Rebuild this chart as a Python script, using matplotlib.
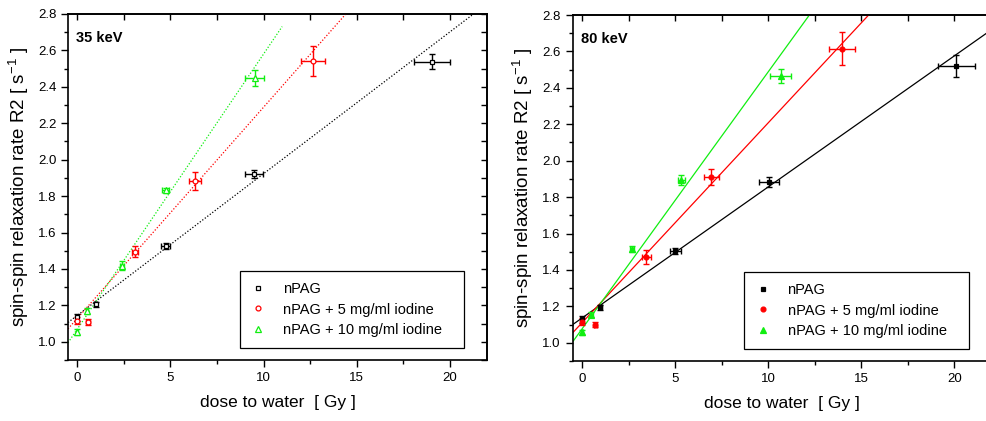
import matplotlib
matplotlib.use("Agg")
import matplotlib.pyplot as plt
import numpy as np
from matplotlib.ticker import MultipleLocator

plt.rcParams['font.family'] = ['Liberation Sans', 'DejaVu Sans']

# ---- data: 35 keV ----
d35_npag = [0.0, 0.99, 4.75, 9.5, 19.03]
r35_npag = [1.135, 1.205, 1.525, 1.922, 2.538]
dx35_npag = [0.05, 0.08, 0.25, 0.47, 0.97]
dy35_npag = [0.02, 0.015, 0.015, 0.02, 0.04]

d35_i5 = [0.0, 0.56, 3.1, 6.3, 12.66]
r35_i5 = [1.115, 1.108, 1.494, 1.883, 2.542]
dx35_i5 = [0.05, 0.1, 0.15, 0.32, 0.65]
dy35_i5 = [0.02, 0.015, 0.03, 0.05, 0.08]

d35_i10 = [0.0, 0.52, 2.39, 4.75, 9.52]
r35_i10 = [1.055, 1.168, 1.418, 1.831, 2.45]
dx35_i10 = [0.05, 0.08, 0.12, 0.2, 0.5]
dy35_i10 = [0.015, 0.015, 0.025, 0.015, 0.045]

# fit lines (slope, intercept, x-range)
fit35_npag = [0.0778, 1.145, -0.5, 22.0]
fit35_i5 = [0.1159, 1.129, -0.5, 22.0]
fit35_i10 = [0.151, 1.07, -0.5, 11.0]

# ---- data: 80 keV ----
d80_npag = [0.0, 0.99, 5.01, 10.05, 20.1]
r80_npag = [1.128, 1.195, 1.505, 1.884, 2.522]
dx80_npag = [0.05, 0.08, 0.28, 0.52, 1.0]
dy80_npag = [0.02, 0.015, 0.015, 0.027, 0.06]

d80_i5 = [0.0, 0.72, 3.45, 6.95, 13.95]
r80_i5 = [1.115, 1.1, 1.47, 1.91, 2.615]
dx80_i5 = [0.05, 0.1, 0.25, 0.4, 0.71]
dy80_i5 = [0.02, 0.015, 0.037, 0.046, 0.09]

d80_i10 = [0.0, 0.5, 2.67, 5.33, 10.66]
r80_i10 = [1.057, 1.154, 1.515, 1.894, 2.465]
dx80_i10 = [0.05, 0.08, 0.1, 0.2, 0.54]
dy80_i10 = [0.015, 0.015, 0.015, 0.03, 0.04]

fit80_npag = [0.072, 1.136, -0.5, 22.0]
fit80_i5 = [0.1098, 1.11, -0.5, 22.0]
fit80_i10 = [0.1412, 1.076, -0.5, 22.0]

labels = ['nPAG', 'nPAG + 5 mg/ml iodine', 'nPAG + 10 mg/ml iodine']
colors = ['black', '#ff0000', '#11ee11']
markers = ['s', 'o', '^']

fig = plt.figure(figsize=(9.86, 4.21), dpi=100)
W, H = 986, 421
ax1 = fig.add_axes([68 / W, 1 - 360 / H, 419 / W, 346 / H])
ax2 = fig.add_axes([572.7 / W, 1 - 361 / H, 419 / W, 346 / H])


def style(ax, title, filled, lstyle, series, fits):
    for (x, y, dx, dy), fit, c, m, lab in zip(series, fits, colors, markers, labels):
        xs = np.array([fit[2], fit[3]])
        ax.plot(xs, fit[0] * xs + fit[1], color=c, lw=0.9, ls=lstyle, zorder=2)
        ax.errorbar(x, y, xerr=dx, yerr=dy, fmt='none', ecolor=c, elinewidth=1.0,
                    capsize=2.5, capthick=1.0, zorder=3)
        ax.plot(x, y, ls='none', marker=m, ms=3.5 if m != '^' else 4.5,
                mfc=c if filled else 'white', mec=c, mew=0.9, label=lab, zorder=4)
    ax.set_xlim(-0.5, 22)
    ax.set_ylim(0.9, 2.8)
    ax.xaxis.set_major_locator(MultipleLocator(5))
    ax.xaxis.set_minor_locator(MultipleLocator(2.5))
    ax.yaxis.set_major_locator(MultipleLocator(0.2))
    ax.yaxis.set_minor_locator(MultipleLocator(0.1))
    ax.yaxis.set_major_formatter(matplotlib.ticker.FormatStrFormatter('%.1f'))
    ax.tick_params(which='major', direction='out', length=5, width=1, labelsize=9.5,
                   top=False, right=False)
    ax.tick_params(which='minor', direction='out', length=3, width=1, top=False, right=False)
    for s in ax.spines.values():
        s.set_linewidth(1.2)
    sx = ax.secondary_xaxis('top')
    sx.xaxis.set_major_locator(MultipleLocator(2.5))
    sx.tick_params(direction='in', length=4, width=1, labeltop=False)
    sx.spines['top'].set_linewidth(1.2)
    sy = ax.secondary_yaxis('right')
    sy.yaxis.set_major_locator(MultipleLocator(0.1))
    sy.tick_params(direction='in', length=4, width=1, labelright=False)
    sy.spines['right'].set_linewidth(1.2)
    ax.set_xlabel('dose to water  [ Gy ]', fontsize=12.5, labelpad=8)
    ax.set_ylabel('spin-spin relaxation rate R2 [ s$^{\\mathregular{-1}}$ ]', fontsize=13.5, labelpad=5)
    ax.text(0.02, 0.93, title, transform=ax.transAxes, fontsize=10.5, fontweight='bold',
            ha='left', va='center')
    leg = ax.legend(loc='upper left', bbox_to_anchor=(0.41, 0.257, 0.535, 0.0), mode='expand',
                    fontsize=10.5, frameon=True, fancybox=False, edgecolor='black',
                    framealpha=1, numpoints=1, handlelength=1.0, handletextpad=1.2,
                    labelspacing=0.45, borderpad=0.75, borderaxespad=0)
    leg.get_frame().set_linewidth(0.9)


style(ax1, '35 keV', False, (0, (1, 1.5)),
      [(d35_npag, r35_npag, dx35_npag, dy35_npag),
       (d35_i5, r35_i5, dx35_i5, dy35_i5),
       (d35_i10, r35_i10, dx35_i10, dy35_i10)],
      [fit35_npag, fit35_i5, fit35_i10])
style(ax2, '80 keV', True, '-',
      [(d80_npag, r80_npag, dx80_npag, dy80_npag),
       (d80_i5, r80_i5, dx80_i5, dy80_i5),
       (d80_i10, r80_i10, dx80_i10, dy80_i10)],
      [fit80_npag, fit80_i5, fit80_i10])

fig.savefig('out.png', dpi=100)
